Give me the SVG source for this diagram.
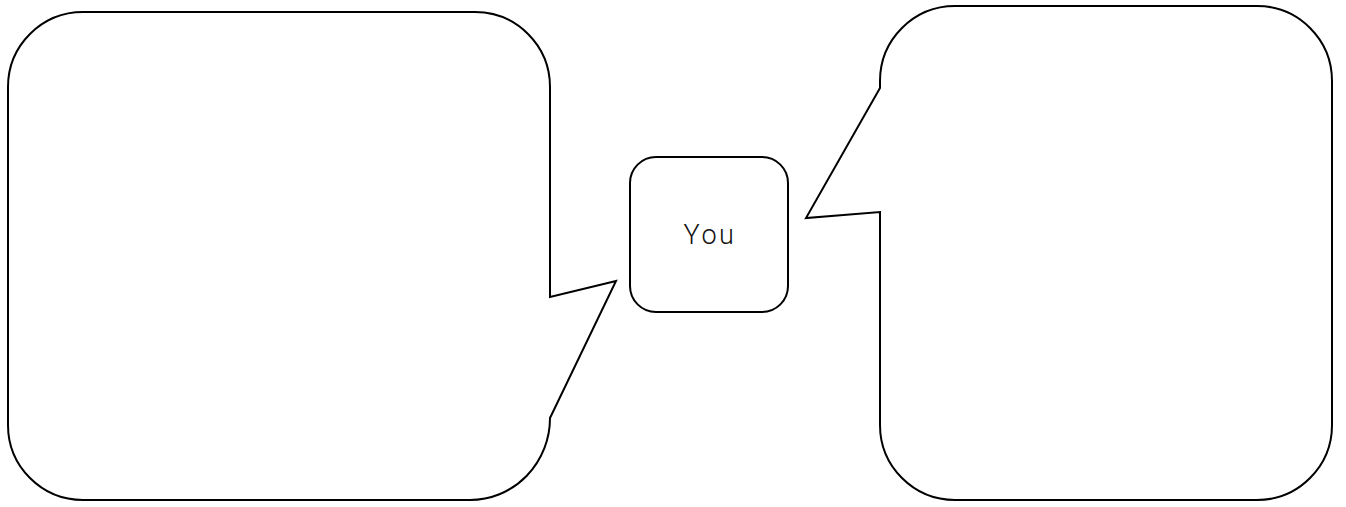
<svg xmlns="http://www.w3.org/2000/svg" width="1346" height="507" viewBox="0 0 1346 507">
<style>
.shape{fill:#fff;stroke:#000;stroke-width:2;stroke-linejoin:miter}
.lbl{font-family:Roboto,"Noto Sans",sans-serif;font-size:27px;font-weight:300;fill:#111;letter-spacing:2.5px;text-anchor:middle;dominant-baseline:central}
</style>
<rect width="1346" height="507" fill="#fff"/>
<g id="bubble-left">
<path class="shape" d="M83,12 H475 A75,75 0 0 1 550,87 V297 L616,281 L550,418 A80,82 0 0 1 470,500 H83 A75,75 0 0 1 8,425 V87 A75,75 0 0 1 83,12 Z"/>
</g>
<g id="bubble-right">
<path class="shape" d="M955,6 H1257 A75,75 0 0 1 1332,81 V425 A75,75 0 0 1 1257,500 H955 A75,75 0 0 1 880,425 V212 L806,218 L880,88 V81 A75,75 0 0 1 955,6 Z"/>
</g>
<g id="you">
<rect class="shape" x="630" y="157" width="158" height="155" rx="26" ry="26"/>
<text class="lbl" x="710" y="235">You</text>
</g>
<g id="connectors"></g>
</svg>
